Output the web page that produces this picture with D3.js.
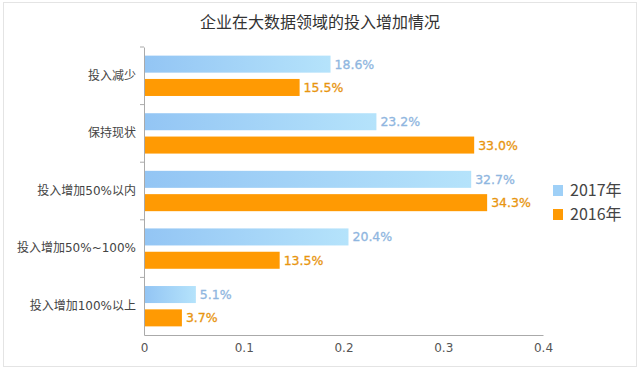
<!DOCTYPE html>
<html><head><meta charset="utf-8">
<script src="https://cdn.jsdelivr.net/npm/d3@7"></script>
<style>body{margin:0;background:#fff;}svg{display:block;font-family:"Noto Sans CJK SC","Noto Sans",sans-serif;}</style>
</head><body>
<svg id="c" width="640" height="370"></svg>
<script>
const title = "企业在大数据领域的投入增加情况";
const categories = ["投入减少","保持现状","投入增加50%以内","投入增加50%~100%","投入增加100%以上"];
const seriesNames = ["2017年","2016年"];
const values2017 = [0.186,0.232,0.327,0.204,0.051];
const values2016 = [0.155,0.330,0.343,0.135,0.037];
const xTicks = [0,0.1,0.2,0.3,0.4];
const labels2017 = ["18.6%","23.2%","32.7%","20.4%","5.1%"];
const labels2016 = ["15.5%","33.0%","34.3%","13.5%","3.7%"];

const svg = d3.select("#c");
const defs = svg.append("defs");
const g1 = defs.append("linearGradient").attr("id","gb").attr("x1","0").attr("x2","1").attr("y1","0").attr("y2","0");
g1.append("stop").attr("offset","0%").attr("stop-color","#93c5f4");
g1.append("stop").attr("offset","100%").attr("stop-color","#b5e3fb");

svg.append("rect").attr("x",3.5).attr("y",2.5).attr("width",633).attr("height",364)
  .attr("fill","#fff").attr("stroke","#e4e4e4");

svg.append("text").attr("x",320).attr("y",28).attr("text-anchor","middle")
  .attr("font-size",16).attr("fill","#333").text(title);

const x = d3.scaleLinear().domain([0,0.4]).range([144,543]);
const y = d3.scaleBand().domain(categories).range([47,335]);
const sub = d3.scaleBand().domain(seriesNames).range([0,y.bandwidth()]).paddingInner(0.27).paddingOuter(0.37);
const numFont = "'DejaVu Sans',Verdana,sans-serif";
const mixFont = "'DejaVu Sans','Noto Sans CJK SC',sans-serif";

// axes
const xAxis = d3.axisBottom(x).tickValues(xTicks).tickSize(0).tickPadding(8).tickFormat(d=>d===0?"0":d3.format(".1f")(d));
const gx = svg.append("g").attr("transform","translate(0,335)").call(xAxis);
gx.select(".domain").attr("stroke","#aaa");
gx.selectAll("text").attr("font-size",12).attr("fill","#555").attr("font-family",numFont);

const yAxis = d3.axisLeft(y).tickSize(0).tickPadding(8);
const gy = svg.append("g").attr("transform","translate(144,0)").call(yAxis);
gy.select(".domain").attr("stroke","#aaa");
gy.selectAll("text").attr("font-size",12).attr("fill","#444").attr("font-family",mixFont);
// small boundary ticks
svg.append("g").selectAll("line").data(categories).join("line")
  .attr("x1",140).attr("x2",144).attr("y1",d=>y(d)).attr("y2",d=>y(d)).attr("stroke","#aaa");

const series = [
  {name:seriesNames[0], vals:values2017, labels:labels2017, fill:"url(#gb)", color:"#8fb6e0"},
  {name:seriesNames[1], vals:values2016, labels:labels2016, fill:"#ff9a03", color:"#e8950f"}
];
series.forEach(s=>{
  const grp = svg.append("g");
  grp.selectAll("rect").data(categories).join("rect")
    .attr("x",x(0)+1).attr("y",(d)=>y(d)+sub(s.name))
    .attr("width",(d,i)=>x(s.vals[i])-x(0)).attr("height",sub.bandwidth())
    .attr("fill",s.fill);
  grp.selectAll("text").data(categories).join("text")
    .attr("x",(d,i)=>x(s.vals[i])+5).attr("y",(d)=>y(d)+sub(s.name)+sub.bandwidth()/2+4.5)
    .attr("font-size",12.5).attr("fill",s.color).attr("stroke",s.color).attr("stroke-width",0.3)
    .attr("font-family",numFont)
    .text((d,i)=>s.labels[i]);
});

// legend
const lg = svg.append("g");
series.forEach((s,i)=>{
  lg.append("rect").attr("x",553).attr("y",185+i*24).attr("width",10).attr("height",11)
    .attr("fill", i===0?"#9fd0f7":s.fill);
  lg.append("text").attr("x",570).attr("y",196+i*24).attr("font-size",16).attr("fill","#444").text(s.name);
});
</script>
</body></html>
